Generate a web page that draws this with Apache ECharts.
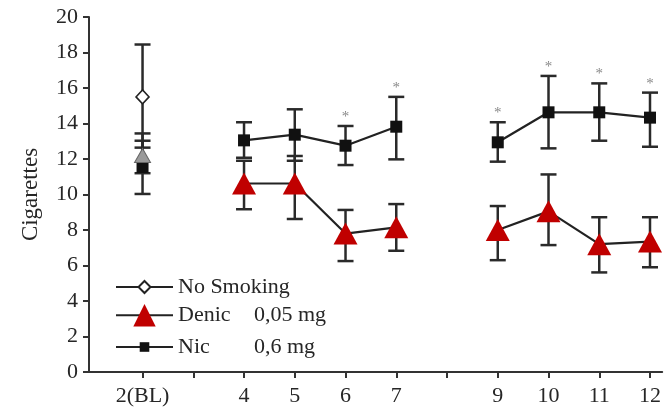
<!DOCTYPE html>
<html>
<head>
<meta charset="utf-8">
<script src="https://cdn.jsdelivr.net/npm/echarts@6/dist/echarts.min.js"></script>
<style>html,body{margin:0;padding:0;background:#fff}#c{width:664px;height:409px}</style>
</head>
<body>
<div id="c"></div>
<script>
// ---- data ----
var sessions = [2, 4, 5, 6, 7, 9, 10, 11, 12];
var xTickValues = [2, 3, 4, 5, 6, 7, 8, 9, 10, 11, 12];
var xLabelValues = [2, 4, 5, 6, 7, 9, 10, 11, 12];
var xLabelTexts = ['2(BL)', '4', '5', '6', '7', '9', '10', '11', '12'];

var noSmokingX = [2];
var noSmoking = [15.5];
var noSmokingLow = [12.64];
var noSmokingHigh = [18.45];

var denic = [12.2, 10.62, 10.62, 7.8, 8.15, 8.0, 9.05, 7.2, 7.35];
var denicLow = [11.2, 9.17, 8.62, 6.25, 6.83, 6.3, 7.15, 5.61, 5.9];
var denicHigh = [13.44, 11.9, 12.17, 9.13, 9.46, 9.35, 11.13, 8.72, 8.72];

var nic = [11.55, 13.05, 13.37, 12.75, 13.82, 12.94, 14.63, 14.63, 14.33];
var nicLow = [10.03, 12.07, 11.9, 11.66, 11.98, 11.85, 12.6, 13.03, 12.69];
var nicHigh = [13.03, 14.07, 14.8, 13.86, 15.5, 14.07, 16.68, 16.26, 15.74];

var significantX = [6, 7, 9, 10, 11, 12];

var yTicks = {min: 0, max: 20, interval: 2};

// ---- build ----
var FONT = 'Liberation Serif';
var TXT = '#262626';
var FS = 22;

function lineData(xs, ys) {
  var out = [];
  for (var i = 0; i < xs.length; i++) {
    if (i > 0 && xs[i] - xs[i - 1] > 1) out.push([xs[i - 1] + 1, '-']);
    out.push([xs[i], ys[i]]);
  }
  return out;
}
function errData(xs, lo, hi) {
  return xs.map(function (x, i) { return [x, lo[i], hi[i]]; });
}
function errSeries(data) {
  return {
    type: 'custom', z: 1, silent: true,
    renderItem: function (params, api) {
      var x = api.value(0);
      var p1 = api.coord([x, api.value(1)]);
      var p2 = api.coord([x, api.value(2)]);
      var w = 8;
      var st = {stroke: '#2a2a2a', lineWidth: 2.5};
      return {type: 'group', children: [
        {type: 'line', shape: {x1: p1[0], y1: p1[1], x2: p2[0], y2: p2[1]}, style: st},
        {type: 'line', shape: {x1: p1[0] - w, y1: p1[1], x2: p1[0] + w, y2: p1[1]}, style: st},
        {type: 'line', shape: {x1: p2[0] - w, y1: p2[1], x2: p2[0] + w, y2: p2[1]}, style: st}
      ]};
    },
    encode: {x: 0, y: [1, 2]},
    data: data
  };
}

var denicData = lineData(sessions, denic).map(function (d) {
  if (d[0] === 2) return {value: d, symbolSize: [16, 14], itemStyle: {color: '#9a9a9a', borderColor: '#666', borderWidth: 1}};
  return d;
});

var starData = significantX.map(function (x) {
  return [x, nicHigh[sessions.indexOf(x)]];
});

function richText() {
  return {fontFamily: FONT, fontSize: FS, color: TXT,
    rich: {a: {width: 76, fontFamily: FONT, fontSize: FS, color: TXT}, b: {fontFamily: FONT, fontSize: FS, color: TXT}}};
}

var chart = echarts.init(document.getElementById('c'));
chart.setOption({
  animation: false,
  backgroundColor: '#fff',
  grid: {left: 89, right: 0, top: 17, bottom: 37},
  xAxis: {
    type: 'value', min: 0.945, max: 12.24,
    splitLine: {show: false},
    axisLine: {lineStyle: {color: '#333', width: 2}},
    axisTick: {show: true, length: 6, customValues: xTickValues, lineStyle: {color: '#333', width: 2}},
    axisLabel: {
      customValues: xLabelValues, margin: 13,
      fontFamily: FONT, fontSize: FS, color: TXT,
      formatter: function (v) { var i = xLabelValues.indexOf(v); return i >= 0 ? xLabelTexts[i] : ''; }
    }
  },
  yAxis: {
    type: 'value', min: yTicks.min, max: yTicks.max, interval: yTicks.interval,
    name: 'Cigarettes', nameLocation: 'middle', nameGap: 47,
    nameTextStyle: {fontFamily: FONT, fontSize: 23, color: TXT},
    splitLine: {show: false},
    axisLine: {show: true, lineStyle: {color: '#333', width: 2}},
    axisTick: {show: true, length: 6, lineStyle: {color: '#333', width: 2}},
    axisLabel: {fontFamily: FONT, fontSize: FS, color: TXT, margin: 11}
  },
  legend: [
    {data: ['No Smoking'], orient: 'vertical', left: 115, top: 276, padding: 0, itemWidth: 57, itemHeight: 15,
     textStyle: {fontFamily: FONT, fontSize: FS, color: TXT}},
    {data: ['Denic'], orient: 'vertical', left: 115, top: 304, padding: 0, itemWidth: 57, itemHeight: 28,
     formatter: function () { return '{a|Denic}{b|0,05 mg}'; },
     textStyle: richText()},
    {data: ['Nic'], orient: 'vertical', left: 115, top: 336, padding: 0, itemWidth: 57, itemHeight: 12,
     formatter: function () { return '{a|Nic}{b|0,6 mg}'; },
     textStyle: richText()}
  ],
  series: [
    errSeries(errData(noSmokingX, noSmokingLow, noSmokingHigh)),
    errSeries(errData(sessions, denicLow, denicHigh)),
    errSeries(errData(sessions, nicLow, nicHigh)),
    {
      name: 'Nic', type: 'line', z: 3, symbol: 'rect', symbolSize: 12,
      itemStyle: {color: '#111'}, lineStyle: {color: '#222', width: 2.2},
      data: lineData(sessions, nic)
    },
    {
      name: 'Denic', type: 'line', z: 4, symbol: 'triangle', symbolSize: [24, 22],
      itemStyle: {color: '#c00000'}, lineStyle: {color: '#222', width: 2.2},
      data: denicData
    },
    {
      name: 'No Smoking', type: 'line', z: 5, symbol: 'diamond', symbolSize: [13, 14],
      itemStyle: {color: '#fff', borderColor: '#222', borderWidth: 1.6}, lineStyle: {color: '#222', width: 2},
      data: lineData(noSmokingX, noSmoking)
    },
    {
      type: 'custom', z: 6, silent: true,
      renderItem: function (params, api) {
        var p = api.coord([api.value(0), api.value(1)]);
        return {type: 'text', x: p[0], y: p[1] - 9,
          style: {text: '*', fill: '#888', fontSize: 15, fontFamily: FONT, align: 'center', verticalAlign: 'middle'}};
      },
      encode: {x: 0, y: 1},
      data: starData
    }
  ]
});
</script>
</body>
</html>
